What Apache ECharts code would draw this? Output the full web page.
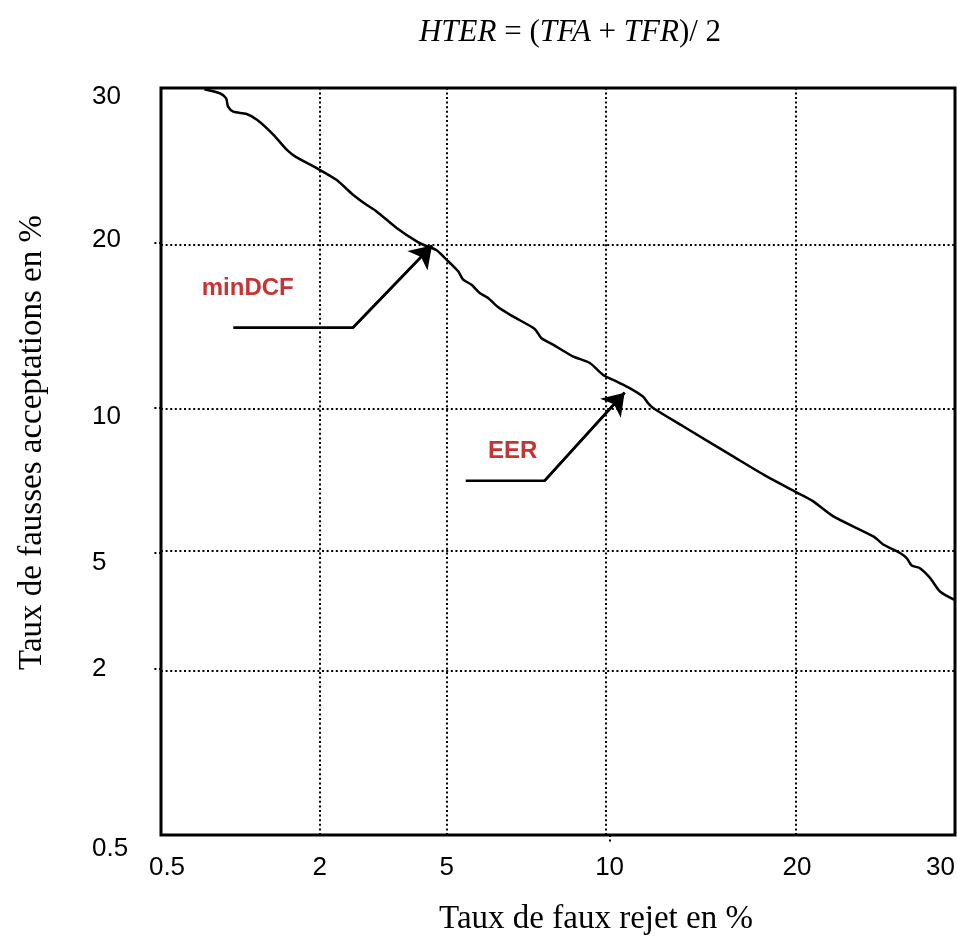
<!DOCTYPE html>
<html>
<head>
<meta charset="utf-8">
<script src="https://cdn.jsdelivr.net/npm/echarts@6/dist/echarts.min.js"></script>
<style>
  html, body { margin: 0; padding: 0; background: #fff; }
  #chart { width: 957px; height: 938px; }
</style>
</head>
<body>
<div id="chart"></div>
<script>
  const tickValues = [0.5, 2, 5, 10, 20, 30];
  const tickLabels = ['0.5', '2', '5', '10', '20', '30'];
  const gridValues = [2, 5, 10, 20];

  // DET curve: TFR (%) on x, TFA (%) on y
  const curveTFR = [0.92, 1.07, 1.13, 1.15, 1.20, 1.33, 1.43, 1.59, 1.72, 1.81,
    2.02, 2.47, 2.85, 3.16, 3.39, 3.85, 4.31, 4.54, 4.76, 4.99,
    5.15, 5.35, 5.50, 5.76, 6.01, 6.27, 6.57, 7.03, 7.70, 7.90,
    8.26, 8.87, 9.39, 9.79, 10.36, 11.07, 11.78, 12.05, 12.32, 13.92,
    16.59, 18.38, 19.98, 21.03, 22.30, 24.83, 25.46, 26.52, 26.94, 27.26,
    27.78, 28.42, 29.05, 30];
  const curveTFA = [29.92, 29.66, 29.34, 28.79, 28.47, 28.32, 27.94, 26.97, 26.0, 25.53,
    24.82, 24.06, 23.10, 22.45, 22.02, 20.95, 20.08, 19.78, 19.55, 18.97,
    18.67, 18.26, 17.76, 17.45, 16.95, 16.65, 16.10, 15.53, 14.77, 14.22,
    13.82, 13.11, 12.71, 12.0, 11.59, 11.19, 10.68, 10.28, 9.99, 9.36,
    8.32, 7.63, 7.08, 6.77, 6.25, 5.56, 5.28, 4.99, 4.86, 4.67,
    4.60, 4.35, 4.0, 3.78];

  const minDcfArrowTFR = [1.20, 2.85, 4.66];
  const minDcfArrowTFA = [14.85, 14.85, 19.82];
  const eerArrowTFR = [5.58, 8.0, 10.80];
  const eerArrowTFA = [7.48, 7.48, 10.91];

  const noteNames = ['minDCF', 'EER'];
  const noteTFR = [1.34, 7.02];
  const noteTFA = [17.20, 8.50];

  // the printed scale is neither linear nor log: where each tick sits (0..1)
  const xTickPos = [0, 0.195, 0.360, 0.565, 0.801, 1];
  const yTickPos = [0, 0.222, 0.378, 0.572, 0.793, 1];
  // small nudges of the printed tick labels (down for y, right for x)
  const yLabelShift = [14, 0, 10, 9, -3, 9];
  const xLabelShift = [6, 4, 0, 0, 0, 0];

  const warp = (v, pos) => {
    for (let i = 1; i < tickValues.length; i++) {
      if (v <= tickValues[i] || i === tickValues.length - 1) {
        const t = (v - tickValues[i - 1]) / (tickValues[i] - tickValues[i - 1]);
        return pos[i - 1] + t * (pos[i] - pos[i - 1]);
      }
    }
  };
  const toPoint = (x, y) => [warp(x, xTickPos), warp(y, yTickPos)];
  const indexOf = (pos, value) => pos.findIndex(p => Math.abs(p - value) < 1e-6);

  const curve = curveTFR.map((x, i) => toPoint(x, curveTFA[i]));
  const arrowPaths = [
    minDcfArrowTFR.map((x, i) => toPoint(x, minDcfArrowTFA[i])),
    eerArrowTFR.map((x, i) => toPoint(x, eerArrowTFA[i]))
  ];
  const notes = noteNames.map((name, i) => ({ name, value: toPoint(noteTFR[i], noteTFA[i]) }));

  const dotted = { color: '#000', width: 2, type: [2, 2.6] };
  const tickFont = { fontFamily: 'Liberation Sans', fontSize: 26, color: '#000' };
  const serif = 'Liberation Serif';

  const yRich = {};
  const xRich = {};
  tickLabels.forEach((t, i) => {
    const s = yLabelShift[i];
    yRich['y' + i] = { ...tickFont, padding: s >= 0 ? [2 * s, 0, 0, 0] : [0, 0, -2 * s, 0] };
    xRich['x' + i] = { ...tickFont, padding: [0, 0, 0, 2 * xLabelShift[i]] };
  });

  const chart = echarts.init(document.getElementById('chart'));

  chart.setOption({
    animation: false,
    backgroundColor: '#fff',
    title: {
      left: 565,
      top: 12,
      textAlign: 'center',
      text: '{i|HTER} = ({i|TFA} + {i|TFR})/ 2',
      textStyle: {
        fontFamily: serif,
        fontSize: 31,
        fontWeight: 'normal',
        color: '#000',
        rich: {
          i: { fontFamily: serif, fontSize: 31, fontStyle: 'italic', color: '#000' }
        }
      }
    },
    grid: {
      left: 161,
      right: 2,
      top: 88,
      bottom: 103,
      outerBoundsMode: 'none',
      show: true,
      borderColor: '#000',
      borderWidth: 3,
      backgroundColor: 'transparent'
    },
    xAxis: {
      type: 'value',
      min: 0,
      max: 1,
      name: 'Taux de faux rejet en %',
      nameLocation: 'middle',
      nameGap: 68,
      nameTextStyle: { fontFamily: serif, fontSize: 33, color: '#000', padding: [0, 0, 0, 76] },
      axisLine: { show: false },
      axisTick: {
        show: true,
        customValues: [warp(10, xTickPos)],
        length: 8,
        lineStyle: dotted
      },
      axisLabel: {
        ...tickFont,
        margin: 20,
        customValues: xTickPos,
        alignMaxLabel: 'right',
        rich: xRich,
        formatter: value => {
          const i = indexOf(xTickPos, value);
          return i < 0 ? '' : '{x' + i + '|' + tickLabels[i] + '}';
        }
      },
      splitLine: { show: false }
    },
    yAxis: {
      type: 'value',
      min: 0,
      max: 1,
      name: 'Taux de fausses acceptations en %',
      nameLocation: 'middle',
      nameGap: 112,
      nameTextStyle: { fontFamily: serif, fontSize: 33, color: '#000', padding: [0, 0, 0, 38] },
      axisLine: { show: false },
      axisTick: {
        show: true,
        customValues: gridValues.map(v => warp(v, yTickPos)),
        length: 9,
        lineStyle: dotted
      },
      axisLabel: {
        ...tickFont,
        align: 'left',
        margin: 69,
        customValues: yTickPos,
        rich: yRich,
        formatter: value => {
          const i = indexOf(yTickPos, value);
          return i < 0 ? '' : '{y' + i + '|' + tickLabels[i] + '}';
        }
      },
      splitLine: { show: false }
    },
    series: [
      {
        name: 'grid',
        type: 'line',
        data: [],
        silent: true,
        z: 1,
        markLine: {
          silent: true,
          symbol: 'none',
          label: { show: false },
          lineStyle: dotted,
          data: [
            ...gridValues.map(v => ({ xAxis: warp(v, xTickPos) })),
            ...gridValues.map(v => ({ yAxis: warp(v, yTickPos) }))
          ]
        }
      },
      {
        name: 'DET',
        type: 'line',
        data: curve,
        symbol: 'none',
        smooth: 0.25,
        z: 3,
        lineStyle: { color: '#000', width: 2.5 }
      },
      {
        name: 'arrow bodies',
        type: 'lines',
        coordinateSystem: 'cartesian2d',
        polyline: true,
        z: 4,
        lineStyle: { color: '#000', width: 2.6, opacity: 1 },
        data: arrowPaths.map(p => ({ coords: p }))
      },
      {
        name: 'arrow heads',
        type: 'lines',
        coordinateSystem: 'cartesian2d',
        z: 4,
        symbol: ['none', 'arrow'],
        symbolSize: 21,
        lineStyle: { color: '#000', width: 2.6, opacity: 1 },
        data: arrowPaths.map(p => ({ coords: p.slice(-2) }))
      },
      {
        name: 'notes',
        type: 'scatter',
        symbolSize: 0,
        z: 5,
        data: notes,
        label: {
          show: true,
          position: 'inside',
          formatter: '{b}',
          fontFamily: 'Liberation Sans',
          fontWeight: 'bold',
          fontSize: 24,
          color: '#b80000'
        }
      }
    ]
  });
</script>
</body>
</html>
